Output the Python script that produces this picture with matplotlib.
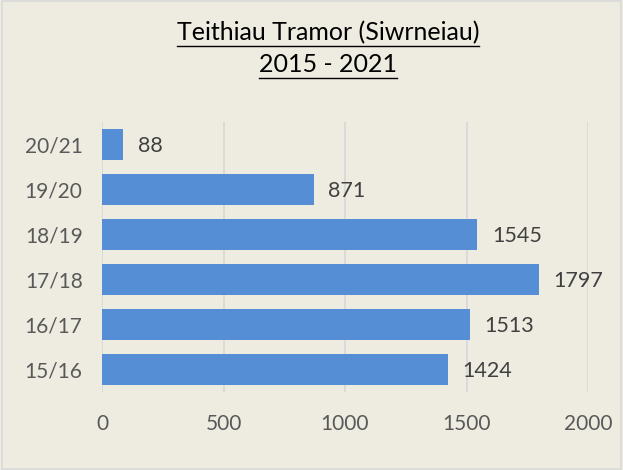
import matplotlib.pyplot as plt
from matplotlib.lines import Line2D
from matplotlib.patches import Rectangle

# data
years = ['15/16', '16/17', '17/18', '18/19', '19/20', '20/21']
trips = [1424, 1513, 1797, 1545, 871, 88]
xticks = [0, 500, 1000, 1500, 2000]

bg = '#EEECE1'
bar_col = '#558ED5'
txt_col = '#595959'

plt.rcParams['font.family'] = ['Lato', 'DejaVu Sans']

fig = plt.figure(figsize=(6.23, 4.70), dpi=100)
fig.patch.set_facecolor(bg)
ax = fig.add_axes([102 / 623, 78 / 470, 486 / 623, 270 / 470])
ax.set_facecolor(bg)

ax.barh(range(len(years)), trips, height=0.69, color=bar_col, zorder=3)
for i, v in enumerate(trips):
    ax.text(v + 60, i - 0.04, str(v), va='center', ha='left',
            fontsize=15.5, color='#404040')

ax.set_xlim(0, 2000)
ax.set_ylim(-0.5, len(years) - 0.5)
ax.set_xticks(xticks)
ax.set_yticks(range(len(years)))
ax.set_yticklabels(years)
ax.tick_params(axis='both', length=0, labelsize=15, labelcolor=txt_col)
ax.tick_params(axis='x', pad=16)
ax.tick_params(axis='y', pad=14)
ax.grid(axis='x', color='#D9D9D9', linewidth=1.3, zorder=0)
for s in ax.spines.values():
    s.set_visible(False)
ax.axvline(0, color='#D9D9D9', linewidth=1.3, zorder=1)

# title with underline
t1 = fig.text(328 / 623, 1 - 33 / 470, 'Teithiau Tramor (Siwrneiau)',
              ha='center', va='center', fontsize=18, color='black')
t2 = fig.text(328 / 623, 1 - 65 / 470, '2015 - 2021',
              ha='center', va='center', fontsize=18, color='black')
fig.canvas.draw()
r = fig.canvas.get_renderer()
for t in (t1, t2):
    bb = t.get_window_extent(r).transformed(fig.transFigure.inverted())
    y = bb.y0 - 1 / 470
    fig.add_artist(Line2D([bb.x0, bb.x1], [y, y], color='black', linewidth=1.0,
                          transform=fig.transFigure))

fig.add_artist(Rectangle((0.004, 0.003), 0.992, 0.994, transform=fig.transFigure,
                         fill=False, edgecolor='#D9D9D9', linewidth=1.2))

fig.savefig('out.png', dpi=100, facecolor=bg)
